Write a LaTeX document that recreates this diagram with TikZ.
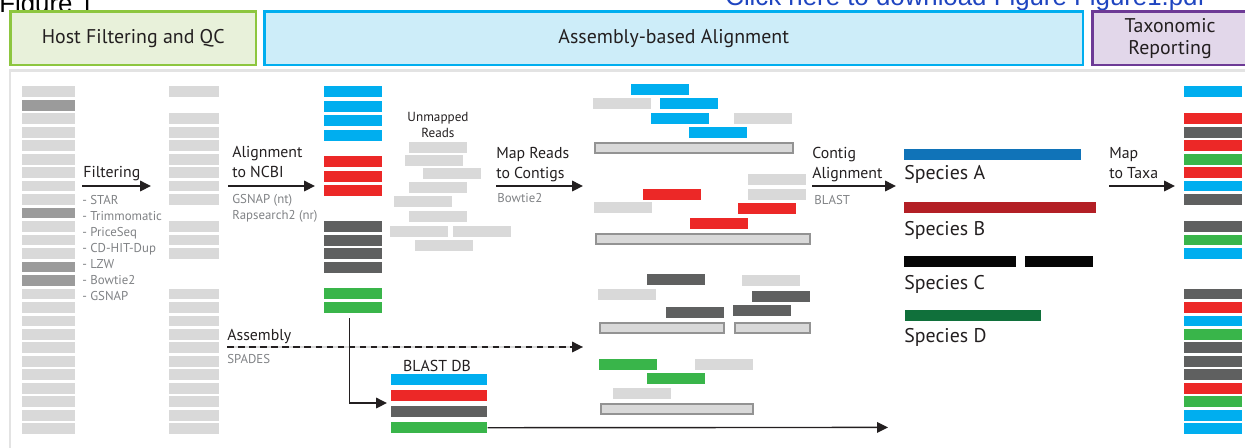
\documentclass[tikz,border=0pt]{standalone}
\usepackage{fontspec}
\setmainfont{PT Sans}
\newfontfamily\pdffont{Liberation Sans}
\usepackage{tikz}
\usetikzlibrary{positioning}
\usetikzlibrary{arrows.meta}
\tikzset{tips=proper}
\definecolor{readgray}{HTML}{D9D9D9}
\definecolor{hostgray}{HTML}{9B9B9B}
\definecolor{seqblue}{HTML}{00AEEF}
\definecolor{seqred}{HTML}{EC2827}
\definecolor{seqdark}{HTML}{5F6060}
\definecolor{seqgreen}{HTML}{39B54A}
\definecolor{spA}{HTML}{1073B8}
\definecolor{spB}{HTML}{B31F25}
\definecolor{spC}{HTML}{060606}
\definecolor{spD}{HTML}{10703B}
\definecolor{inkdark}{HTML}{231F20}
\definecolor{inkgray}{HTML}{808285}
\definecolor{qcline}{HTML}{8DC63F}
\definecolor{qcfill}{HTML}{E8F1DA}
\definecolor{asmline}{HTML}{00AEEF}
\definecolor{asmfill}{HTML}{CDEDF9}
\definecolor{taxline}{HTML}{6D3A96}
\definecolor{taxfill}{HTML}{E2D7EA}
\definecolor{panelline}{HTML}{E3E3E3}
\definecolor{linkblue}{HTML}{1F45C0}
\tikzset{%
    read/.style={rectangle, inner sep=0pt, anchor=north west, fill=readgray,
        minimum width=1.16cm, minimum height=0.215cm},
    contig/.style={read, draw=hostgray!95!black, line width=0.9pt, minimum width=#1*0.02cm,
        minimum height=0.2cm},
    phase/.style={rectangle, inner sep=0pt, anchor=north west, line width=1.4pt,
        text=inkdark, font=\fontsize{11.3}{12.5}\selectfont, align=center,
        minimum height=1.07cm},
    arrow/.style={draw=inkdark, line width=0.8pt, -{Triangle[length=6.2pt, width=6pt]}},
    stepname/.style={anchor=base west, inner sep=0pt, text=inkdark, align=left,
        font=\fontsize{9}{11.3}\selectfont},
    toolname/.style={anchor=base west, inner sep=0pt, text=inkgray, align=left,
        font=\fontsize{7.3}{9.1}\selectfont},
    species/.style={anchor=base west, inner sep=0pt, text=inkdark,
        font=\fontsize{11.3}{12.5}\selectfont}
}
\begin{document}
\begin{tikzpicture}[x=0.02cm, y=-0.02cm]
    \clip (0,0) rectangle (1245,447);
    % page header of the pdf
    \node[anchor=base west, inner sep=0pt, font=\pdffont\fontsize{14.7}{14.7}\selectfont] (figno) at (-1,12.5) {Figure 1};
    \node[anchor=base west, inner sep=0pt, text=linkblue, font=\pdffont\fontsize{14.7}{14.7}\selectfont] (pdflink) at (725,5) {Click here to download Figure Figure1.pdf};

    % the three phases
    \node[phase, draw=qcline, fill=qcfill, minimum width=245.6*0.02cm] (hostqc) at (9.2,10.2) {Host Filtering and QC};
    \node[phase, draw=asmline, fill=asmfill, minimum width=818.6*0.02cm] (asmalign) at (263.2,10.2) {Assembly-based Alignment};
    \node[phase, draw=taxline, fill=taxfill, minimum width=155.3*0.02cm] (taxrep) at (1091.2,10.2) {Taxonomic\\Reporting};
    \draw[panelline, line width=1.7pt] (10,70.5) rectangle (1300,500);

    % raw and filtered reads
    \foreach \i in {0,2,3,4,5,6,7,8,10,11,12,15,16,17,18,19,20,21,22,23,24,25} {
        \node[read, minimum width=1.06cm] (raw-\i) at (22,{86+13.48*\i}) {};
        \node[read, minimum width=1cm] (clean-\i) at (169,{86+13.48*\i}) {};
    }
    \foreach \i in {1,9,13,14}
        \node[read, fill=hostgray, minimum width=1.06cm] (raw-\i) at (22,{86+13.48*\i}) {};

    % reads hit in NCBI
    \foreach \y/\c [count=\n] in {86/seqblue,100.5/seqblue,115/seqblue,129.5/seqblue,
            156/seqred,170.5/seqred,185/seqred,221/seqdark,234.5/seqdark,248/seqdark,
            261.5/seqdark,288/seqgreen,302/seqgreen}
        \node[read, fill=\c] (ncbi-\n) at (323.5,\y) {};

    % unmapped reads
    \node[anchor=base, inner sep=0pt, text=inkdark, align=center, font=\fontsize{7.5}{9}\selectfont] (unm-lbl) at (438,137) {Unmapped\\Reads};
    \foreach \x/\y [count=\n] in {409/142,405/155,423/168,409/182,394/196,409/211,390/226,453/226,415/240}
        \node[read] (unm-\n) at (\x,\y) {};

    % reads mapped to contigs
    \foreach \x/\y/\c [count=\n] in {631/84/seqblue,593/98/readgray,660/98/seqblue,651/113/seqblue,
            734/113/readgray,689/127/seqblue,748/174/readgray,643/189/seqred,748/189/readgray,
            594/202/readgray,738/203/seqred,690/218/seqred,647/274/seqdark,742/275/readgray,
            598/289/readgray,752/291/seqdark,666/307/seqdark,733/305/seqdark,599/359/seqgreen,
            695/359/readgray,647/373/seqgreen,613/388/readgray}
        \node[read, fill=\c] (map-\n) at (\x,\y) {};
    \node[contig=198] (ctg-1) at (594,142) {};
    \node[contig=214] (ctg-2) at (595,233) {};
    \node[contig=124] (ctg-3) at (599,322) {};
    \node[contig=75] (ctg-4) at (734,322) {};
    \node[contig=152] (ctg-5) at (600,403) {};

    % blast db
    \node[anchor=base, inner sep=0pt, text=inkdark, font=\fontsize{9}{11.3}\selectfont] (db-lbl) at (437,371) {BLAST DB};
    \foreach \y/\c [count=\n] in {374/seqblue,390/seqred,406/seqdark,422/seqgreen}
        \node[read, fill=\c, minimum width=1.92cm] (db-\n) at (391,\y) {};

    % species
    \node[read, fill=spA, minimum width=177*0.02cm, minimum height=0.22cm] (spA-bar) at (904,149) {};
    \node[read, fill=spB, minimum width=192*0.02cm, minimum height=0.22cm] (spB-bar) at (904,202) {};
    \node[read, fill=spC, minimum width=112*0.02cm, minimum height=0.22cm] (spC-bar1) at (904,256) {};
    \node[read, fill=spC, minimum width=68*0.02cm, minimum height=0.22cm] (spC-bar2) at (1025,256) {};
    \node[read, fill=spD, minimum width=136*0.02cm, minimum height=0.22cm] (spD-bar) at (905,310) {};
    \node[species] (spA-lbl) at (904,179) {Species A};
    \node[species] (spB-lbl) at (904,235) {Species B};
    \node[species] (spC-lbl) at (904,289) {Species C};
    \node[species] (spD-lbl) at (904,342) {Species D};

    % reads assigned to taxa
    \foreach \i/\c in {0/seqblue,2/seqred,3/seqdark,4/seqred,5/seqgreen,6/seqred,7/seqblue,
            8/seqdark,10/seqdark,11/seqgreen,12/seqblue,15/seqdark,16/seqred,17/seqblue,
            18/seqgreen,19/seqdark,20/seqdark,21/seqdark,22/seqred,23/seqgreen,24/seqblue,25/seqblue}
        \node[read, fill=\c] (taxa-\i) at (1184,{86+13.48*\i}) {};

    % steps
    \coordinate (filt-a) at (82,186);
    \coordinate (filt-b) at (151,186);
    \draw[arrow] (filt-a) -- (filt-b);
    \node[stepname] (filt-lbl) at (83,177) {Filtering};
    \node[toolname] (filt-tools) at (82,300) {- STAR\\- Trimmomatic\\- PriceSeq\\- CD-HIT-Dup\\- LZW\\- Bowtie2\\- GSNAP};

    \coordinate (nt-a) at (228,186);
    \coordinate (nt-b) at (315,186);
    \draw[arrow] (nt-a) -- (nt-b);
    \node[stepname] (nt-lbl) at (232,177) {Alignment\\to NCBI};
    \node[toolname] (nt-tools) at (232,219) {GSNAP (nt)\\Rapsearch2 (nr)};

    \coordinate (bt-a) at (496,186);
    \coordinate (bt-b) at (583,186);
    \draw[arrow] (bt-a) -- (bt-b);
    \node[stepname] (bt-lbl) at (496,178) {Map Reads\\to Contigs};
    \node[toolname] (bt-tools) at (497,202) {Bowtie2};

    \coordinate (blast-a) at (812,186);
    \coordinate (blast-b) at (896,186);
    \draw[arrow] (blast-a) -- (blast-b);
    \node[stepname] (blast-lbl) at (812,178) {Contig\\Alignment};
    \node[toolname] (blast-tools) at (814,204) {BLAST};

    \coordinate (tx-a) at (1109,186);
    \coordinate (tx-b) at (1175,186);
    \draw[arrow] (tx-a) -- (tx-b);
    \node[stepname] (tx-lbl) at (1109,178) {Map\\to Taxa};

    % assembly
    \coordinate (asm-a) at (227,347);
    \coordinate (asm-b) at (583,347);
    \draw[readgray, line width=0.6pt] (asm-a) -- (asm-b);
    \draw[arrow, dash pattern=on 3.7pt off 2.6pt] (asm-a) -- (asm-b);
    \node[stepname] (asm-lbl) at (227,340) {Assembly};
    \node[toolname] (asm-tools) at (227,363) {SPADES};

    % into and out of the blast db
    \coordinate (db-in) at (387,403);
    \coordinate (db-out) at (888,427.4);
    \draw[arrow] ([xshift=-0.07cm, yshift=-0.1cm]ncbi-13.south) |- (db-in);
    \draw[arrow] (db-4.east) -- (db-out);
\end{tikzpicture}
\end{document}
